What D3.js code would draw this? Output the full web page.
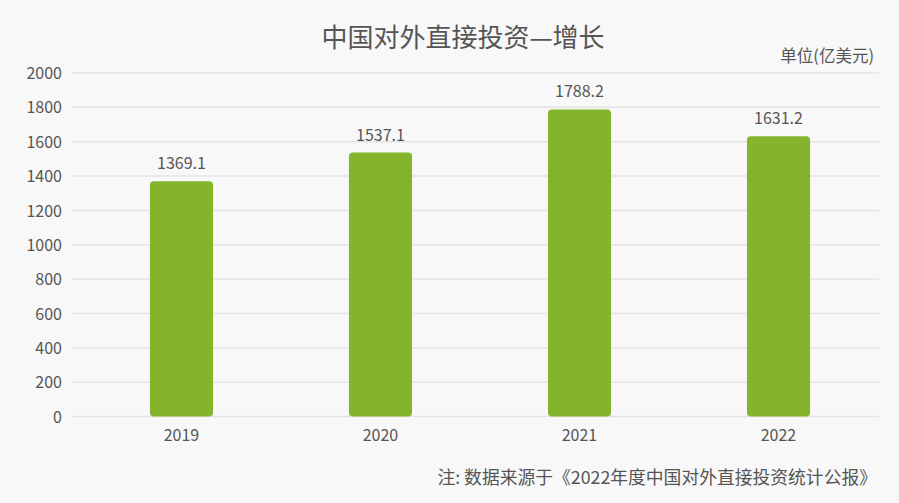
<!DOCTYPE html>
<html><head><meta charset="utf-8">
<script src="https://cdn.jsdelivr.net/npm/d3@7"></script>
<style>
html,body{margin:0;padding:0;background:#f8f8f8;}
text{font-family:"Noto Sans CJK SC","Noto Sans",sans-serif;fill:#555;}
</style></head>
<body><svg id="c" width="899" height="503"></svg>
<script>
const categories = ["2019","2020","2021","2022"];
const values = [1369.1,1537.1,1788.2,1631.2];
const yTicks = [0,200,400,600,800,1000,1200,1400,1600,1800,2000];
const titleText = "中国对外直接投资—增长";
const unitText = "单位(亿美元)";
const noteText = "注: 数据来源于《2022年度中国对外直接投资统计公报》";

const svg = d3.select("#c");
svg.append("rect").attr("width",899).attr("height",503).attr("fill","#f8f8f8");

const x = d3.scaleBand().domain(categories).range([82,878]).paddingInner(0.683).paddingOuter(0.3415);
const y = d3.scaleLinear().domain([0,2000]).range([416.5,73]);

// grid
svg.append("g").selectAll("line").data(yTicks).join("line")
  .attr("x1",72).attr("x2",879)
  .attr("y1",d=>y(d)).attr("y2",d=>y(d))
  .attr("stroke","#e4e4e4").attr("stroke-width",1.5);

// y axis labels
const yAxis = d3.axisLeft(y).tickValues(yTicks).tickFormat(d3.format("d")).tickSize(0).tickPadding(0);
const yg = svg.append("g").attr("transform","translate(62,0)").call(yAxis);
yg.select(".domain").remove();
yg.selectAll("text").style("font-size","16px").attr("fill","#555").attr("dy","0.35em")
  .style("font-family",'"Noto Sans CJK SC","Noto Sans",sans-serif');

// x axis labels
const xAxis = d3.axisBottom(x).tickSize(0).tickPadding(0);
const xg = svg.append("g").attr("transform","translate(0,427)").call(xAxis);
xg.select(".domain").remove();
xg.selectAll("text").style("font-size","16px").attr("fill","#555").attr("dy","0.9em")
  .style("font-family",'"Noto Sans CJK SC","Noto Sans",sans-serif');

// bars
svg.append("g").selectAll("rect").data(values).join("rect")
  .attr("x",(d,i)=>x(categories[i]))
  .attr("width",x.bandwidth())
  .attr("y",d=>y(d))
  .attr("height",d=>y(0)-y(d))
  .attr("rx",4).attr("ry",4)
  .attr("fill","#84b32c");

// value labels
svg.append("g").selectAll("text").data(values).join("text")
  .attr("x",(d,i)=>x(categories[i])+x.bandwidth()/2)
  .attr("y",d=>y(d)-12)
  .attr("text-anchor","middle")
  .style("font-size","16px")
  .text(d=>d.toFixed(1));

// title
svg.append("text").attr("x",463).attr("y",47).attr("text-anchor","middle")
  .style("font-size","26px").text(titleText);

// unit
svg.append("text").attr("x",874).attr("y",62).attr("text-anchor","end")
  .style("font-size","16.5px").text(unitText);

// note
svg.append("text").attr("x",877).attr("y",484).attr("text-anchor","end")
  .style("font-size","17.8px").text(noteText);
</script></body></html>
